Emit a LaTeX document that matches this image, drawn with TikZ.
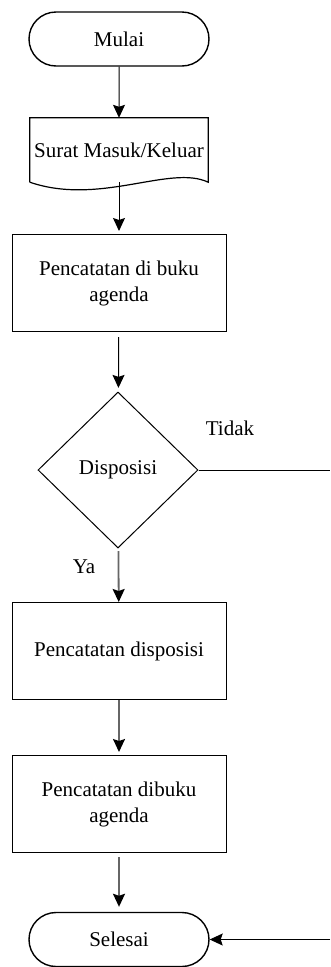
\documentclass[tikz,border=0pt]{standalone}
\usepackage{fontspec}
\setmainfont{LiberationSerif}[Extension=.ttf, UprightFont=*-Regular, BoldFont=*-Bold]
\usetikzlibrary{shapes.geometric,shapes.misc,arrows.meta}
\tikzset{
  every node/.style={font=\rmfamily\fontsize{21}{26}\selectfont},
  terminal/.style={rounded rectangle, draw, line width=1.4pt, minimum width=180pt, minimum height=54pt, inner sep=0pt},
  proses/.style={rectangle, draw, line width=1pt, minimum width=214pt, minimum height=97pt, align=center, inner sep=0pt},
  keputusan/.style={diamond, draw, line width=1pt, minimum width=160pt, minimum height=156pt, inner sep=0pt},
  panah/.style={-{Stealth[length=13pt,width=12pt,inset=2pt,color=black]}, line width=1pt},
  panahabu/.style={panah, draw=black!60, line width=1.8pt},
}
\begin{document}
\begin{tikzpicture}[x=1pt, y=-1pt]
      \useasboundingbox (0,0) rectangle (330,967);
      \node[terminal] (mulai) at (119,39) {Mulai};
      \node[minimum width=178pt, minimum height=64pt, inner sep=0pt] (surat) at (119,150) {Surat Masuk/Keluar};
      \draw[line width=1.2pt] (surat.south west) -- (surat.north west) -- (surat.north east) -- (surat.south east)
        .. controls +(-38,-18) and +(70,24) .. (surat.south west);
      \node[proses] (catat) at (119,283) {Pencatatan di buku\\agenda};
      \node[keputusan] (disposisi) at (118,470) {Disposisi};
      \node[proses] (catatdisp) at (119,651) {Pencatatan disposisi};
      \node[proses] (catatagenda) at (119,804) {Pencatatan dibuku\\agenda};
      \node[terminal] (selesai) at (119,939.5) {Selesai};
      \node (ya) at (84,567) {Ya};
      \node (tidak) at (230,428) {Tidak};
      \coordinate (tepikanan) at (330,470);
      \coordinate (tepibawah) at (330,939.5);
      \draw[panah] (mulai) -- (surat.north);
      \draw[panah, shorten >=3pt] (surat.south) -- (catat);
      \draw[panah, shorten <=5pt, shorten >=4pt] (catat) -- (disposisi);
      \draw[panahabu, shorten <=3pt] (disposisi) -- (catatdisp);
      \draw[panahabu, shorten >=3pt] (catatdisp) -- (catatagenda);
      \draw[panahabu, shorten <=4pt, shorten >=5pt] (catatagenda) -- (selesai);
      \draw[line width=1pt] (disposisi.east) -- (tepikanan);
      \draw[panah] (tepibawah) -- (selesai.east);
    \end{tikzpicture}
\end{document}
